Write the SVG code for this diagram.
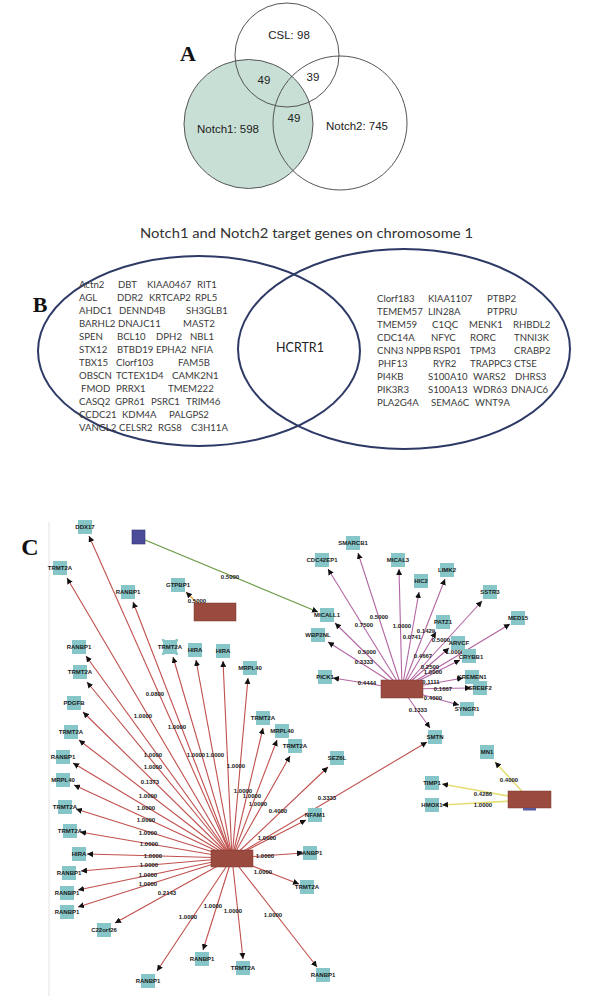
<svg xmlns="http://www.w3.org/2000/svg" width="596" height="996" viewBox="0 0 596 996">
<style>
.venn{fill:none;stroke:#555;stroke-width:1}
.va{font-family:"Liberation Sans",Arial,sans-serif;font-size:11.5px;fill:#222;text-anchor:middle}
.pl{font-family:"Liberation Serif","Times New Roman",serif;font-weight:bold;fill:#111;text-anchor:middle}
.ell{fill:none;stroke:#2e3a66;stroke-width:2}
.g{font-family:Lato,"Liberation Sans",sans-serif;font-size:9.6px;fill:#3a3a3a}
.nd rect{fill:#86c6c8}
.nl{font-family:"Liberation Sans",Arial,sans-serif;font-size:6px;font-weight:bold;fill:#1a1a1a;text-anchor:middle}
.el{font-family:"Liberation Sans",Arial,sans-serif;font-size:6px;font-weight:bold;fill:#1a1a1a;text-anchor:middle}
.hub{fill:#9a4a3e;stroke:#7a3a30;stroke-width:0.5}
.r line{stroke:#c0504d;stroke-width:1.1}
.p line{stroke:#b366a3;stroke-width:1.1}
.y line{stroke:#e6df78;stroke-width:1.6}
</style>
<defs>
<marker id="ah" markerUnits="userSpaceOnUse" markerWidth="6" markerHeight="6" refX="6" refY="3" orient="auto"><path d="M0,0 L6,3 L0,6 z" fill="#111"/></marker>
</defs>
<rect width="596" height="996" fill="#fff"/>

<!-- Panel A -->
<g id="panelA">
<circle cx="248.5" cy="124" r="64.5" fill="#c8dfd5"/>
<circle class="venn" cx="248.5" cy="124" r="64.5"/>
<circle class="venn" cx="287" cy="55" r="52"/>
<circle class="venn" cx="340" cy="123" r="67"/>
<text class="pl" x="188" y="61" font-size="22">A</text>
<text class="va" x="289" y="39">CSL: 98</text>
<text class="va" x="264" y="84">49</text>
<text class="va" x="313" y="81">39</text>
<text class="va" x="294" y="122">49</text>
<text class="va" x="228" y="133">Notch1: 598</text>
<text class="va" x="357" y="130">Notch2: 745</text>
</g>

<!-- Panel B -->
<g id="panelB">
<text class="pl" x="40" y="312" font-size="22">B</text>
<text x="140" y="238" font-family="Lato,'Liberation Sans',sans-serif" font-size="14" fill="#333" textLength="333" lengthAdjust="spacingAndGlyphs">Notch1 and Notch2 target genes on chromosome 1</text>
<ellipse class="ell" cx="199" cy="351" rx="161" ry="95"/>
<ellipse class="ell" cx="404" cy="349" rx="166" ry="100"/>
<text x="300" y="352" font-family="Lato,'Liberation Sans',sans-serif" font-size="12.5" fill="#222" text-anchor="middle">HCRTR1</text>
<g class="g">
<text x="79" y="288">Actn2</text><text x="118" y="288">DBT</text><text x="147" y="288">KIAA0467</text><text x="197" y="288">RIT1</text>
<text x="79" y="301">AGL</text><text x="117" y="301">DDR2</text><text x="149" y="301">KRTCAP2</text><text x="195" y="301">RPL5</text>
<text x="79" y="314">AHDC1</text><text x="119" y="314">DENND4B</text><text x="186" y="314">SH3GLB1</text>
<text x="79" y="327">BARHL2</text><text x="118" y="327">DNAJC11</text><text x="183" y="327">MAST2</text>
<text x="79" y="340">SPEN</text><text x="117" y="340">BCL10</text><text x="156" y="340">DPH2</text><text x="190" y="340">NBL1</text>
<text x="79" y="353">STX12</text><text x="117" y="353">BTBD19</text><text x="156" y="353">EPHA2</text><text x="191" y="353">NFIA</text>
<text x="79" y="366">TBX15</text><text x="116" y="366">Clorf103</text><text x="178" y="366">FAM5B</text>
<text x="79" y="379">OBSCN</text><text x="116" y="379">TCTEX1D4</text><text x="172" y="379">CAMK2N1</text>
<text x="81" y="392">FMOD</text><text x="116" y="392">PRRX1</text><text x="168" y="392">TMEM222</text>
<text x="79" y="405">CASQ2</text><text x="115" y="405">GPR61</text><text x="151" y="405">PSRC1</text><text x="186" y="405">TRIM46</text>
<text x="79" y="418">CCDC21</text><text x="122" y="418">KDM4A</text><text x="169" y="418">PALGPS2</text>
<text x="79" y="431">VANGL2</text><text x="119" y="431">CELSR2</text><text x="158" y="431">RGS8</text><text x="191" y="431">C3H11A</text>

<text x="377" y="302">Clorf183</text><text x="428" y="302">KIAA1107</text><text x="487" y="302">PTBP2</text>
<text x="377" y="315">TEMEM57</text><text x="428" y="315">LIN28A</text><text x="487" y="315">PTPRU</text>
<text x="377" y="328">TMEM59</text><text x="432" y="328">C1QC</text><text x="469" y="328">MENK1</text><text x="513" y="328">RHBDL2</text>
<text x="377" y="341">CDC14A</text><text x="431" y="341">NFYC</text><text x="470" y="341">RORC</text><text x="514" y="341">TNNI3K</text>
<text x="377" y="354">CNN3 NPPB</text><text x="433" y="354">RSP01</text><text x="470" y="354">TPM3</text><text x="514" y="354">CRABP2</text>
<text x="378" y="367">PHF13</text><text x="433" y="367">RYR2</text><text x="470" y="367">TRAPPC3</text><text x="514" y="367">CTSE</text>
<text x="377" y="380">PI4KB</text><text x="428" y="380">S100A10</text><text x="473" y="380">WARS2</text><text x="515" y="380">DHRS3</text>
<text x="377" y="393">PIK3R3</text><text x="428" y="393">S100A13</text><text x="473" y="393">WDR63</text><text x="511" y="393">DNAJC6</text>
<text x="377" y="406">PLA2G4A</text><text x="431" y="406">SEMA6C</text><text x="475" y="406">WNT9A</text>
</g>
</g>

<!-- Panel C -->
<text class="pl" x="30" y="555" font-size="24">C</text>
<line x1="49" y1="522" x2="49" y2="996" stroke="#e2e2e2" stroke-width="1"/>

<g id="connectors">
<g class="r">
<line x1="232" y1="858" x2="89" y2="536" marker-end="url(#ah)"/>
<line x1="232" y1="858" x2="67" y2="578" marker-end="url(#ah)"/>
<line x1="232" y1="858" x2="133" y2="602" marker-end="url(#ah)"/>
<line x1="232" y1="858" x2="86" y2="656" marker-end="url(#ah)"/>
<line x1="232" y1="858" x2="173" y2="657" marker-end="url(#ah)"/>
<line x1="232" y1="858" x2="196" y2="660" marker-end="url(#ah)"/>
<line x1="232" y1="858" x2="223" y2="661" marker-end="url(#ah)"/>
<line x1="232" y1="858" x2="248" y2="678" marker-end="url(#ah)"/>
<line x1="232" y1="858" x2="87" y2="682" marker-end="url(#ah)"/>
<line x1="232" y1="858" x2="83" y2="712" marker-end="url(#ah)"/>
<line x1="232" y1="858" x2="79" y2="740" marker-end="url(#ah)"/>
<line x1="232" y1="858" x2="73" y2="763" marker-end="url(#ah)"/>
<line x1="232" y1="858" x2="74" y2="785" marker-end="url(#ah)"/>
<line x1="232" y1="858" x2="76" y2="809" marker-end="url(#ah)"/>
<line x1="232" y1="858" x2="80" y2="832" marker-end="url(#ah)"/>
<line x1="232" y1="858" x2="87" y2="854" marker-end="url(#ah)"/>
<line x1="232" y1="858" x2="81" y2="871" marker-end="url(#ah)"/>
<line x1="232" y1="858" x2="78" y2="890" marker-end="url(#ah)"/>
<line x1="232" y1="858" x2="78" y2="907" marker-end="url(#ah)"/>
<line x1="232" y1="858" x2="115" y2="923" marker-end="url(#ah)"/>
<line x1="232" y1="858" x2="157" y2="971" marker-end="url(#ah)"/>
<line x1="232" y1="858" x2="203" y2="950" marker-end="url(#ah)"/>
<line x1="232" y1="858" x2="243" y2="959" marker-end="url(#ah)"/>
<line x1="232" y1="858" x2="317" y2="967" marker-end="url(#ah)"/>
<line x1="232" y1="858" x2="299" y2="884" marker-end="url(#ah)"/>
<line x1="232" y1="858" x2="303" y2="853" marker-end="url(#ah)"/>
<line x1="232" y1="858" x2="306" y2="820" marker-end="url(#ah)"/>
<line x1="232" y1="858" x2="328" y2="767" marker-end="url(#ah)"/>
<line x1="232" y1="858" x2="427" y2="742" marker-end="url(#ah)"/>
<line x1="232" y1="858" x2="290" y2="756" marker-end="url(#ah)"/>
<line x1="232" y1="858" x2="277" y2="740" marker-end="url(#ah)"/>
<line x1="232" y1="858" x2="263" y2="728" marker-end="url(#ah)"/>
</g>
<g class="p">
<line x1="402" y1="689" x2="358" y2="553" marker-end="url(#ah)"/>
<line x1="402" y1="689" x2="328" y2="569" marker-end="url(#ah)"/>
<line x1="402" y1="689" x2="399" y2="569" marker-end="url(#ah)"/>
<line x1="402" y1="689" x2="419" y2="592" marker-end="url(#ah)"/>
<line x1="402" y1="689" x2="445" y2="579" marker-end="url(#ah)"/>
<line x1="402" y1="689" x2="482" y2="601" marker-end="url(#ah)"/>
<line x1="402" y1="689" x2="510" y2="624" marker-end="url(#ah)"/>
<line x1="402" y1="689" x2="335" y2="623" marker-end="url(#ah)"/>
<line x1="402" y1="689" x2="328" y2="642" marker-end="url(#ah)"/>
<line x1="402" y1="689" x2="436" y2="632" marker-end="url(#ah)"/>
<line x1="402" y1="689" x2="449" y2="648" marker-end="url(#ah)"/>
<line x1="402" y1="689" x2="460" y2="660" marker-end="url(#ah)"/>
<line x1="402" y1="689" x2="333" y2="678" marker-end="url(#ah)"/>
<line x1="402" y1="689" x2="463" y2="678" marker-end="url(#ah)"/>
<line x1="402" y1="689" x2="471" y2="688" marker-end="url(#ah)"/>
<line x1="402" y1="689" x2="459" y2="705" marker-end="url(#ah)"/>
<line x1="402" y1="689" x2="430" y2="728" marker-end="url(#ah)"/>
</g>
<g class="y">
<line x1="530" y1="800" x2="495" y2="762" marker-end="url(#ah)"/>
<line x1="530" y1="800" x2="442" y2="784" marker-end="url(#ah)"/>
<line x1="530" y1="800" x2="442" y2="805" marker-end="url(#ah)"/>
</g>
<line x1="145" y1="540" x2="318" y2="612" stroke="#6b9a45" stroke-width="1.2" marker-end="url(#ah)"/>
<line x1="198" y1="604" x2="186" y2="592" stroke="#e0a040" stroke-width="1.2" marker-end="url(#ah)"/>
</g>

<g id="edge-labels">
<text class="el" x="155" y="696">0.0800</text>
<text class="el" x="143" y="718">1.0000</text>
<text class="el" x="177" y="729">1.0000</text>
<text class="el" x="153" y="757">1.0000</text>
<text class="el" x="153" y="769">1.0000</text>
<text class="el" x="150" y="784">0.1373</text>
<text class="el" x="148" y="798">1.0000</text>
<text class="el" x="146" y="810">1.0000</text>
<text class="el" x="146" y="822">1.0000</text>
<text class="el" x="148" y="835">1.0000</text>
<text class="el" x="149" y="846">1.0000</text>
<text class="el" x="153" y="858">1.0000</text>
<text class="el" x="149" y="867">1.0000</text>
<text class="el" x="148" y="877">1.0000</text>
<text class="el" x="148" y="886">1.0000</text>
<text class="el" x="167" y="895">0.2143</text>
<text class="el" x="188" y="919">1.0000</text>
<text class="el" x="213" y="908">1.0000</text>
<text class="el" x="233" y="913">1.0000</text>
<text class="el" x="273" y="917">1.0000</text>
<text class="el" x="263" y="874">1.0000</text>
<text class="el" x="265" y="858">1.0000</text>
<text class="el" x="267" y="840">1.0000</text>
<text class="el" x="278" y="813">0.4000</text>
<text class="el" x="327" y="800">0.3333</text>
<text class="el" x="258" y="806">1.0000</text>
<text class="el" x="252" y="798">1.0000</text>
<text class="el" x="243" y="793">1.0000</text>
<text class="el" x="236" y="768">1.0000</text>
<text class="el" x="196" y="757">1.0000</text>
<text class="el" x="215" y="757">1.0000</text>
<text class="el" x="379" y="619">0.5000</text>
<text class="el" x="364" y="627">0.7500</text>
<text class="el" x="402" y="628">1.0000</text>
<text class="el" x="412" y="639">0.0741</text>
<text class="el" x="426" y="633">0.1429</text>
<text class="el" x="441" y="642">0.5000</text>
<text class="el" x="423" y="658">0.4667</text>
<text class="el" x="367" y="654">0.5000</text>
<text class="el" x="364" y="664">0.3333</text>
<text class="el" x="430" y="669">0.2500</text>
<text class="el" x="433" y="674">1.0000</text>
<text class="el" x="455" y="654">1.0000</text>
<text class="el" x="367" y="685">0.4444</text>
<text class="el" x="431" y="684">0.1111</text>
<text class="el" x="443" y="691">0.1667</text>
<text class="el" x="433" y="700">0.4000</text>
<text class="el" x="418" y="712">0.1333</text>
<text class="el" x="509" y="782">0.4000</text>
<text class="el" x="483" y="796">0.4286</text>
<text class="el" x="483" y="807">1.0000</text>
<text class="el" x="230" y="579">0.5000</text>
<text class="el" x="197" y="603">0.5000</text>
</g>

<g id="hubs">
<g id="hub1"><rect class="hub" x="211" y="850" width="42" height="17"/></g>
<g id="hub2"><rect class="hub" x="381" y="680" width="42" height="18"/></g>
<g id="hub3"><rect class="hub" x="508" y="791" width="43" height="17"/><rect x="523" y="808" width="13" height="2.5" fill="#5a5aa0"/></g>
<g id="hub4"><rect class="hub" x="194" y="603" width="42" height="18"/></g>
<g id="src"><rect x="132" y="530" width="13" height="14" fill="#4b4b9a" stroke="#33336e" stroke-width="0.6"/></g>
</g>

<g id="nodes" class="nd">
<g id="n1"><rect x="78" y="520" width="14" height="14"/><text class="nl" x="85" y="529">DDX17</text></g>
<g id="n2"><rect x="53" y="561" width="14" height="14"/><text class="nl" x="60" y="570">TRMT2A</text></g>
<g id="n3"><rect x="121" y="585" width="14" height="14"/><text class="nl" x="128" y="594">RANBP1</text></g>
<g id="n4"><rect x="171" y="578" width="14" height="14"/><text class="nl" x="178" y="587">GTPBP1</text></g>
<g id="n5"><rect x="72" y="640" width="14" height="14"/><text class="nl" x="79" y="649">RANBP1</text></g>
<g id="n6"><rect x="163" y="640" width="14" height="14"/><text class="nl" x="170" y="649">TRMT2A</text>
<rect x="162" y="639" width="2.5" height="2.5" fill="#d04040"/><rect x="175.5" y="639" width="2.5" height="2.5" fill="#d04040"/><rect x="162" y="652.5" width="2.5" height="2.5" fill="#d04040"/><rect x="175.5" y="652.5" width="2.5" height="2.5" fill="#d04040"/></g>
<g id="n7"><rect x="188" y="643" width="14" height="14"/><text class="nl" x="195" y="652">HIRA</text></g>
<g id="n8"><rect x="216" y="644" width="14" height="14"/><text class="nl" x="223" y="653">HIRA</text></g>
<g id="n9"><rect x="243" y="661" width="14" height="14"/><text class="nl" x="250" y="670">MRPL40</text></g>
<g id="n10"><rect x="73" y="665" width="14" height="14"/><text class="nl" x="80" y="674">TRMT2A</text></g>
<g id="n11"><rect x="67" y="696" width="14" height="14"/><text class="nl" x="74" y="705">PDGFB</text></g>
<g id="n12"><rect x="64" y="725" width="14" height="14"/><text class="nl" x="71" y="734">TRMT2A</text></g>
<g id="n13"><rect x="56" y="750" width="14" height="14"/><text class="nl" x="63" y="759">RANBP1</text></g>
<g id="n14"><rect x="56" y="773" width="14" height="14"/><text class="nl" x="63" y="782">MRPL40</text></g>
<g id="n15"><rect x="58" y="800" width="14" height="14"/><text class="nl" x="65" y="809">TRMT2A</text></g>
<g id="n16"><rect x="63" y="824" width="14" height="14"/><text class="nl" x="70" y="833">TRMT2A</text></g>
<g id="n17"><rect x="72" y="847" width="14" height="14"/><text class="nl" x="79" y="856">HIRA</text></g>
<g id="n18"><rect x="62" y="866" width="14" height="14"/><text class="nl" x="69" y="875">RANBP1</text></g>
<g id="n19"><rect x="60" y="886" width="14" height="14"/><text class="nl" x="67" y="895">RANBP1</text></g>
<g id="n20"><rect x="60" y="905" width="14" height="14"/><text class="nl" x="67" y="914">RANBP1</text></g>
<g id="n21"><rect x="97" y="923" width="14" height="14"/><text class="nl" x="104" y="932">C22orf26</text></g>
<g id="n22"><rect x="141" y="974" width="14" height="14"/><text class="nl" x="148" y="983">RANBP1</text></g>
<g id="n23"><rect x="195" y="952" width="14" height="14"/><text class="nl" x="202" y="961">RANBP1</text></g>
<g id="n24"><rect x="236" y="961" width="14" height="14"/><text class="nl" x="243" y="970">TRMT2A</text></g>
<g id="n25"><rect x="316" y="968" width="14" height="14"/><text class="nl" x="323" y="977">RANBP1</text></g>
<g id="n26"><rect x="300" y="880" width="14" height="14"/><text class="nl" x="307" y="889">TRMT2A</text></g>
<g id="n27"><rect x="303" y="846" width="14" height="14"/><text class="nl" x="310" y="855">RANBP1</text></g>
<g id="n28"><rect x="308" y="808" width="14" height="14"/><text class="nl" x="315" y="817">NFAM1</text></g>
<g id="n29"><rect x="330" y="751" width="14" height="14"/><text class="nl" x="337" y="760">SEZ6L</text></g>
<g id="n30"><rect x="288" y="739" width="14" height="14"/><text class="nl" x="295" y="748">TRMT2A</text></g>
<g id="n31"><rect x="275" y="724" width="14" height="14"/><text class="nl" x="282" y="733">MRPL40</text></g>
<g id="n32"><rect x="256" y="711" width="14" height="14"/><text class="nl" x="263" y="720">TRMT2A</text></g>
<g id="n33"><rect x="428" y="730" width="14" height="14"/><text class="nl" x="435" y="739">SMTN</text></g>
<g id="n34"><rect x="346" y="536" width="14" height="14"/><text class="nl" x="353" y="545">SMARCB1</text></g>
<g id="n35"><rect x="315" y="553" width="14" height="14"/><text class="nl" x="322" y="562">CDC42EP1</text></g>
<g id="n36"><rect x="391" y="553" width="14" height="14"/><text class="nl" x="398" y="562">MICAL3</text></g>
<g id="n37"><rect x="414" y="574" width="14" height="14"/><text class="nl" x="421" y="583">HIC2</text></g>
<g id="n38"><rect x="440" y="563" width="14" height="14"/><text class="nl" x="447" y="572">LIMK2</text></g>
<g id="n39"><rect x="483" y="585" width="14" height="14"/><text class="nl" x="490" y="594">SSTR3</text></g>
<g id="n40"><rect x="511" y="611" width="14" height="14"/><text class="nl" x="518" y="620">MED15</text></g>
<g id="n41"><rect x="320" y="608" width="14" height="14"/><text class="nl" x="327" y="617">MICALL1</text></g>
<g id="n42"><rect x="311" y="628" width="14" height="14"/><text class="nl" x="318" y="637">WBP2NL</text></g>
<g id="n43"><rect x="436" y="615" width="14" height="14"/><text class="nl" x="443" y="624">PATZ1</text></g>
<g id="n44"><rect x="451" y="636" width="14" height="14"/><text class="nl" x="459" y="645">ARVCF</text></g>
<g id="n45"><rect x="462" y="649" width="14" height="14"/><text class="nl" x="471" y="659">CRYBB1</text></g>
<g id="n46"><rect x="318" y="670" width="14" height="14"/><text class="nl" x="325" y="679">PICK1</text></g>
<g id="n47"><rect x="465" y="670" width="14" height="14"/><text class="nl" x="472" y="679">KREMEN1</text></g>
<g id="n48"><rect x="473" y="681" width="14" height="14"/><text class="nl" x="480" y="690">SREBF2</text></g>
<g id="n49"><rect x="460" y="702" width="14" height="14"/><text class="nl" x="467" y="711">SYNGR1</text></g>
<g id="n50"><rect x="480" y="745" width="14" height="14"/><text class="nl" x="487" y="754">MN1</text></g>
<g id="n51"><rect x="425" y="776" width="14" height="14"/><text class="nl" x="432" y="785">TIMP1</text></g>
<g id="n52"><rect x="425" y="798" width="14" height="14"/><text class="nl" x="432" y="807">HMOX1</text></g>
</g>
</svg>
